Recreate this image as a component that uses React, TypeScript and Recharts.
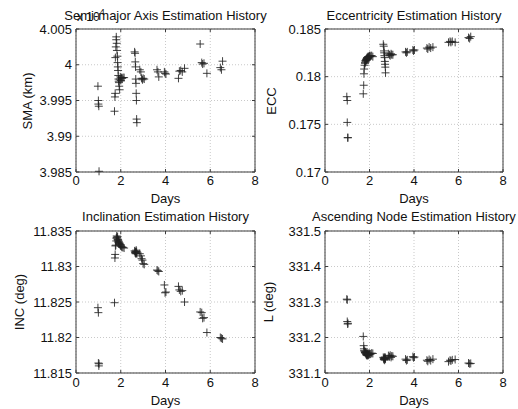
import React from "react";
import { ScatterChart, Scatter, XAxis, YAxis, CartesianGrid, ReferenceArea } from "recharts";

// estimation epochs (days) shared by all four panels
const days = [
  0.98, 1.0, 1.0, 1.02, 1.03,
  1.72, 1.74, 1.75, 1.76, 1.78, 1.8,
  1.8, 1.82, 1.83, 1.85, 1.86, 1.87, 1.88, 1.89, 1.9, 1.91, 1.92, 1.93, 1.95, 1.96, 1.98, 2.0, 2.03, 2.06, 2.1, 2.15,
  2.62, 2.64, 2.65, 2.66, 2.67, 2.68, 2.69, 2.7, 2.71, 2.72,
  2.85, 2.9, 2.93, 2.97, 3.0, 3.05,
  3.62, 3.66, 3.7,
  3.95, 3.98, 4.02,
  4.58, 4.62, 4.68, 4.75, 4.85,
  5.55, 5.62, 5.66, 5.72, 5.85,
  6.45, 6.5, 6.55,
];

const smaKm = [
  39970, 39950, 39945, 39942, 39851,
  39935, 39955, 39960, 40010, 40025, 40039,
  40035, 40030, 40020, 40012, 40003, 39997, 39992, 39985, 39980, 39977, 39975, 39970, 39965, 39980, 39983, 39978, 39982, 39981, 39982, 39982,
  40018, 40016, 40004, 39997, 39980, 39974, 39960, 39950, 39924, 39919,
  39993, 39990, 39981, 39979, 39981, 39980,
  39993, 39990, 39983,
  39990, 39988, 39987,
  39981, 39991, 39992, 39990, 39995,
  40029, 40003, 40001, 40002, 39988,
  39996, 39993, 40005,
];

const ecc = [
  0.1779, 0.1775, 0.1752, 0.1736, 0.1736,
  0.1782, 0.1791, 0.1803, 0.1808, 0.1812, 0.1814,
  0.1815, 0.1817, 0.1816, 0.1818, 0.1817, 0.1819, 0.1818, 0.182, 0.1819, 0.182, 0.1819, 0.1821, 0.182, 0.1821, 0.1821, 0.1822, 0.1821, 0.1822, 0.1822, 0.1821,
  0.1834, 0.1832, 0.1827, 0.1825, 0.1822, 0.182, 0.1816, 0.1813, 0.181, 0.1804,
  0.1824, 0.1823, 0.1822, 0.1824, 0.1823, 0.1823,
  0.1826, 0.1825, 0.1826,
  0.1828, 0.1827, 0.1828,
  0.183, 0.1829, 0.1831, 0.183, 0.1831,
  0.1836, 0.1837, 0.1836, 0.1837, 0.1836,
  0.1841, 0.184, 0.1842,
];

const incDeg = [
  11.8242, 11.8235, 11.8164, 11.816, 11.8163,
  11.8249, 11.8312, 11.8317, 11.8329, 11.833, 11.8336,
  11.834, 11.8343, 11.8341, 11.8339, 11.8342, 11.8338, 11.8336, 11.8337, 11.8334, 11.8335, 11.8333, 11.8332, 11.8333, 11.8331, 11.833, 11.8329, 11.8328, 11.8327, 11.8327, 11.8326,
  11.8322, 11.832, 11.8319, 11.8321, 11.8318, 11.832, 11.8323, 11.8319, 11.8321, 11.8318,
  11.8318, 11.8315, 11.8311, 11.8309, 11.8304, 11.8303,
  11.8295, 11.8294, 11.8293,
  11.8274, 11.8263, 11.8264,
  11.8272, 11.8267, 11.8265, 11.8266, 11.825,
  11.8236, 11.8235, 11.8227, 11.8228, 11.8207,
  11.82, 11.8199, 11.8198,
];

const nodeDeg = [
  331.308, 331.306, 331.245, 331.238, 331.24,
  331.203, 331.177, 331.168, 331.163, 331.16, 331.158,
  331.158, 331.155, 331.16, 331.152, 331.156, 331.15, 331.154, 331.152, 331.149, 331.153, 331.151, 331.156, 331.15, 331.154, 331.152, 331.155, 331.153, 331.154, 331.156, 331.155,
  331.144, 331.14, 331.138, 331.142, 331.141, 331.136, 331.145, 331.139, 331.143, 331.14,
  331.149, 331.146, 331.15, 331.144, 331.148, 331.147,
  331.139, 331.135, 331.137,
  331.146, 331.143, 331.145,
  331.136, 331.133, 331.138, 331.135, 331.139,
  331.132, 331.136, 331.134, 331.137, 331.138,
  331.128, 331.126, 331.127,
];

const dayTicks = [0, 2, 4, 6, 8];
const smaTicks = [39850, 39900, 39950, 40000, 40050];
const smaTickLabels = ["3.985", "3.99", "3.995", "4", "4.005"];
const eccTicks = [0.17, 0.175, 0.18, 0.185];
const eccTickLabels = ["0.17", "0.175", "0.18", "0.185"];
const incTicks = [11.815, 11.82, 11.825, 11.83, 11.835];
const incTickLabels = ["11.815", "11.82", "11.825", "11.83", "11.835"];
const nodeTicks = [331.1, 331.2, 331.3, 331.4, 331.5];
const nodeTickLabels = ["331.1", "331.2", "331.3", "331.4", "331.5"];

const rows = days.map((day, i) => ({
  day,
  sma: smaKm[i],
  ecc: ecc[i],
  inc: incDeg[i],
  node: nodeDeg[i],
}));

const FONT = "'Liberation Sans', Arial, Helvetica, sans-serif";
const FRAME = "#3c3c3c";

const Plus = (props: any) => {
  const { cx, cy } = props;
  if (cx == null || cy == null) return null;
  return (
    <path
      d={`M${cx - 4},${cy}H${cx + 4}M${cx},${cy - 4}V${cy + 4}`}
      stroke="#222"
      strokeWidth={1}
      strokeOpacity={0.85}
      fill="none"
    />
  );
};

type PlotBox = { x: number; y: number; w: number; h: number };

function Panel(props: {
  left: number;
  top: number;
  width: number;
  height: number;
  plot: PlotBox;
  dataKey: string;
  ticks: number[];
  labels: string[];
  xTickMargin: number;
  daysOffset: number;
}) {
  const { left, top, width, height, plot, dataKey, ticks, labels, xTickMargin, daysOffset } = props;
  const yMin = ticks[0];
  const yMax = ticks[ticks.length - 1];
  const bottomY = plot.y + plot.h;
  const rightX = plot.x + plot.w;

  const xTick = (p: any) => (
    <g>
      <line x1={p.x} x2={p.x} y1={bottomY} y2={bottomY - 3} stroke={FRAME} />
      <line x1={p.x} x2={p.x} y1={plot.y} y2={plot.y + 3} stroke={FRAME} />
      <text x={p.x} y={p.y} dy="0.71em" textAnchor="middle" fontSize={13} fontFamily={FONT} fill="#111">
        {p.payload.value}
      </text>
    </g>
  );

  const yTick = (p: any) => {
    const idx = ticks.findIndex((t) => Math.abs(t - p.payload.value) < 1e-9);
    return (
      <g>
        <line x1={plot.x} x2={plot.x + 3} y1={p.y} y2={p.y} stroke={FRAME} />
        <line x1={rightX} x2={rightX - 3} y1={p.y} y2={p.y} stroke={FRAME} />
        <text x={p.x} y={p.y} dy="0.355em" textAnchor="end" fontSize={13} fontFamily={FONT} fill="#111">
          {labels[idx]}
        </text>
      </g>
    );
  };

  return (
    <div style={{ position: "absolute", left, top }}>
      <ScatterChart
        width={width}
        height={height}
        margin={{ top: plot.y, left: 0, right: width - rightX, bottom: 0 }}
      >
        <CartesianGrid stroke="#c9c9c9" strokeDasharray="1 2" />
        <XAxis
          type="number"
          dataKey="day"
          domain={[0, 8]}
          ticks={dayTicks}
          interval={0}
          height={height - bottomY}
          axisLine={false}
          tickLine={false}
          tickSize={0}
          tickMargin={xTickMargin}
          tick={xTick}
          label={{
            value: "Days",
            position: "insideBottom",
            offset: daysOffset,
            fill: "#111",
            fontSize: 13,
            fontFamily: FONT,
          }}
        />
        <YAxis
          type="number"
          dataKey={dataKey}
          domain={[yMin, yMax]}
          ticks={ticks}
          interval={0}
          width={plot.x}
          axisLine={false}
          tickLine={false}
          tickSize={0}
          tickMargin={4}
          tick={yTick}
        />
        <Scatter data={rows} shape={Plus} isAnimationActive={false} />
        <ReferenceArea
          x1={0}
          x2={8}
          y1={yMin}
          y2={yMax}
          fill="none"
          fillOpacity={0}
          stroke={FRAME}
          strokeWidth={1}
          ifOverflow="visible"
        />
      </ScatterChart>
    </div>
  );
}

const textStyle = { fontFamily: FONT, fontSize: 13, fill: "#111" };

export default function App() {
  return (
    <div style={{ position: "absolute", left: 0, top: 0, width: 518, height: 409, background: "#fff" }}>
      <Panel left={0} top={0} width={259} height={210} plot={{ x: 76, y: 29, w: 179, h: 143 }}
        dataKey="sma" ticks={smaTicks} labels={smaTickLabels} xTickMargin={4} daysOffset={7} />
      <Panel left={259} top={0} width={259} height={210} plot={{ x: 66, y: 29, w: 178, h: 143 }}
        dataKey="ecc" ticks={eccTicks} labels={eccTickLabels} xTickMargin={4} daysOffset={7} />
      <Panel left={0} top={204} width={259} height={205} plot={{ x: 76, y: 27, w: 179, h: 142 }}
        dataKey="inc" ticks={incTicks} labels={incTickLabels} xTickMargin={5} daysOffset={4} />
      <Panel left={259} top={204} width={259} height={205} plot={{ x: 66, y: 27, w: 178, h: 142 }}
        dataKey="node" ticks={nodeTicks} labels={nodeTickLabels} xTickMargin={5} daysOffset={4} />
      <svg width={518} height={409} style={{ position: "absolute", left: 0, top: 0, pointerEvents: "none" }}>
        <text x={165.5} y={20} textAnchor="middle" {...textStyle}>Semi-major Axis Estimation History</text>
        <text x={414} y={20} textAnchor="middle" {...textStyle}>Eccentricity Estimation History</text>
        <text x={165.5} y={221} textAnchor="middle" {...textStyle}>Inclination Estimation History</text>
        <text x={414} y={221} textAnchor="middle" {...textStyle}>Ascending Node Estimation History</text>
        <text x={77} y={21} fontFamily={FONT} fontSize={12} fill="#111">
          x 10<tspan dy={-6} fontSize={9}>4</tspan>
        </text>
        <text transform="translate(32,101) rotate(-90)" textAnchor="middle" {...textStyle}>SMA (km)</text>
        <text transform="translate(276,101) rotate(-90)" textAnchor="middle" {...textStyle}>ECC</text>
        <text transform="translate(24,302) rotate(-90)" textAnchor="middle" {...textStyle}>INC (deg)</text>
        <text transform="translate(273,302) rotate(-90)" textAnchor="middle" {...textStyle}>L (deg)</text>
      </svg>
    </div>
  );
}
